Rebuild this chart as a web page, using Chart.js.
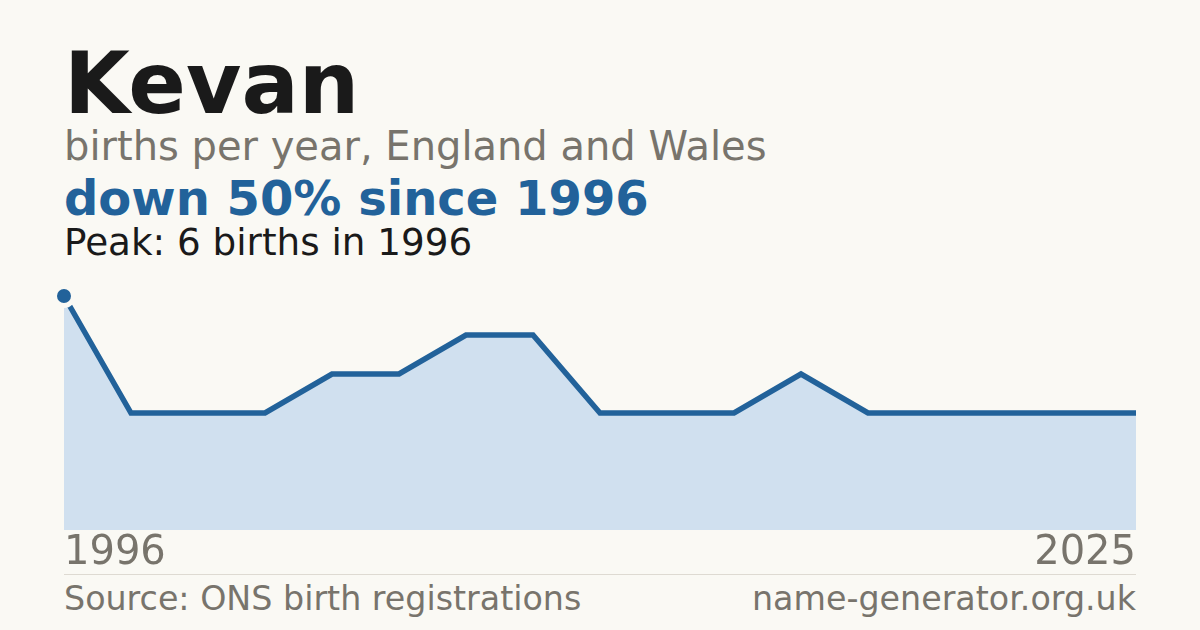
<!DOCTYPE html>
<html>
<head>
<meta charset="utf-8">
<script src="https://cdn.jsdelivr.net/npm/chart.js@4"></script>
<style>
  html, body { margin: 0; padding: 0; }
  body { width: 1200px; height: 630px; background: #faf9f4; position: relative; overflow: hidden;
         font-family: "DejaVu Sans", sans-serif; }
  .txt { position: absolute; left: 64px; white-space: nowrap; line-height: 1; }
  #name { top: 41px; font-size: 85px; font-weight: bold; color: #1a1a1a; }
  #sub { top: 126px; font-size: 40px; color: #78746c; }
  #change { top: 174px; font-size: 48px; font-weight: bold; color: #22629a; }
  #peak { top: 224px; font-size: 37.3px; color: #1a1a1a; }
  #rule { position: absolute; left: 64px; width: 1072px; top: 574px; height: 1px; background: #dedad2; }
  #source { top: 582px; font-size: 33.3px; color: #78746c; }
  #site { top: 582px; left: auto; right: 64px; font-size: 33.3px; color: #78746c; }
  #trend { position: absolute; left: 0; top: 0; }
</style>
</head>
<body>
<div class="txt" id="name">Kevan</div>
<div class="txt" id="sub">births per year, England and Wales</div>
<div class="txt" id="change">down 50% since 1996</div>
<div class="txt" id="peak">Peak: 6 births in 1996</div>
<div id="rule"></div>
<div class="txt" id="source">Source: ONS birth registrations</div>
<div class="txt" id="site">name-generator.org.uk</div>
<canvas id="trend" width="1200" height="630"></canvas>
<script>
// years with a recorded count (only the first and last are labelled)
const years = ['1996', '1997', '1998', '1999', '2000', '2002', '2004', '2006', '2008',
               '2010', '2012', '2014', '2016', '2018', '2020', '2022', '2025']
const births = [6, 3, 3, 3, 4, 4, 5, 5, 3, 3, 3, 4, 3, 3, 3, 3, 3]

const lineColour = '#22629a'
const fillColour = '#d0e0ef'
const greyText = '#78746c'

const ctx = document.getElementById('trend')

const trendChart = new Chart(ctx, {
   type: 'line',
   data: {
      labels: years,
      datasets: [{
         data: births,
         borderColor: lineColour,
         backgroundColor: fillColour,
         borderWidth: 5.5,
         fill: 'origin',
         tension: 0,
         clip: false,
         pointRadius: births.map((v, i) => i === 0 ? 9.5 : 0),
         pointBackgroundColor: lineColour,
         pointBorderColor: '#faf9f4',
         pointBorderWidth: 5,
         pointHoverRadius: 0
      }]
   },
   options: {
      responsive: false,
      animation: false,
      devicePixelRatio: 1,
      layout: { padding: { top: 257, left: 64, right: 64, bottom: 52 } },
      plugins: { legend: { display: false }, tooltip: { enabled: false } },
      scales: {
         y: { display: false, min: 0, max: 7 },
         x: {
            offset: false,
            grid: { display: false, drawTicks: false },
            border: { display: false },
            ticks: {
               autoSkip: false,
               maxRotation: 0,
               align: 'inner',
               padding: 0,
               color: greyText,
               font: { family: 'DejaVu Sans', size: 40 },
               callback: (val, i) => (i === 0 || i === years.length - 1) ? years[i] : ''
            }
         }
      }
   }
})
</script>
</body>
</html>
